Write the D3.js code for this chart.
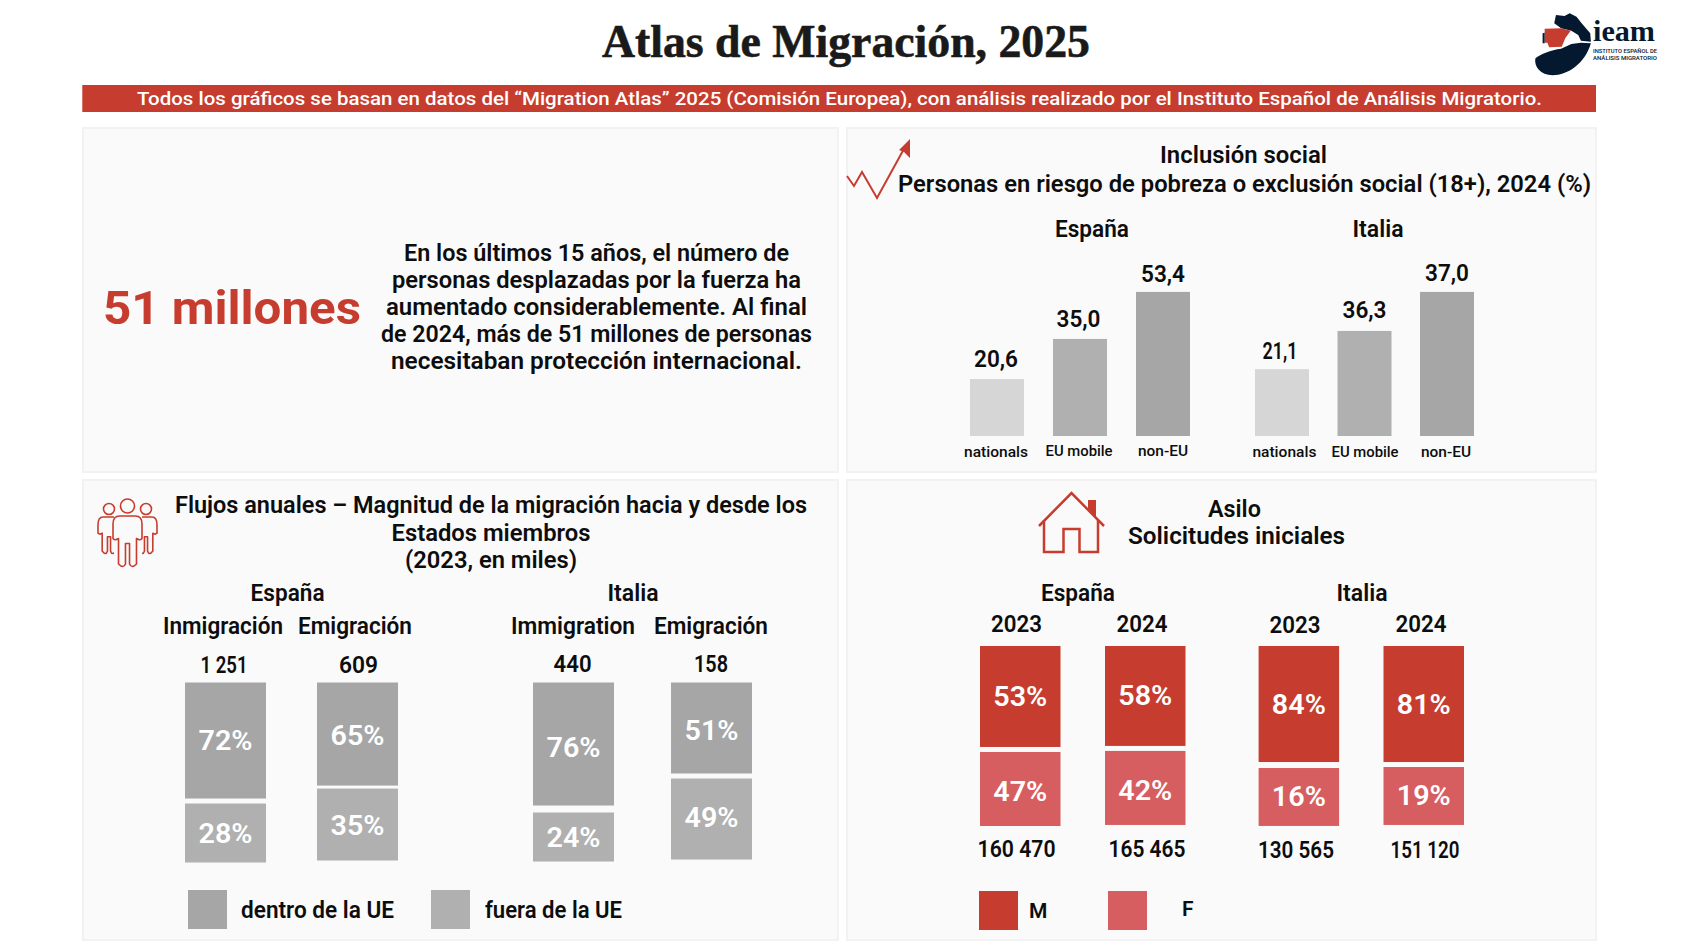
<!DOCTYPE html>
<html lang="es"><head><meta charset="utf-8">
<script src="https://cdn.jsdelivr.net/npm/d3@7"></script>
<style>html,body{margin:0;padding:0;background:#fff}svg{display:block}text{font-family:Roboto,"Noto Sans",sans-serif}</style>
</head><body><svg id="c" width="1685" height="946"></svg>
<script>
// ---- data ----
const titleText = "Atlas de Migración, 2025";
const bannerText = "Todos los gráficos se basan en datos del “Migration Atlas” 2025 (Comisión Europea), con análisis realizado por el Instituto Español de Análisis Migratorio.";
const headlineText = "51 millones";
const paragraphLines = ["En los últimos 15 años, el número de","personas desplazadas por la fuerza ha","aumentado considerablemente. Al final","de 2024, más de 51 millones de personas","necesitaban protección internacional."];
const countries = ["España","Italia"];

const inclusionCategories = ["nationals","EU mobile","non-EU"];
const inclusionSpain = [20.6,35.0,53.4];          // printed values
const inclusionItaly = [21.1,36.3,37.0];
const inclusionSpainDrawn = [20.7,35.3,52.4];     // bar lengths as drawn in the reference
const inclusionItalyDrawn = [24.3,38.2,52.4];

const flowHeads = ["Inmigración","Emigración","Immigration","Emigración"];
const flowTotals = ["1 251","609","440","158"];
const flowInside = [72,65,76,51];
const flowOutside = [28,35,24,49];
const flowInsideDrawn = [66.3,58.9,70.3,52.0];    // segment lengths as drawn
const flowOutsideDrawn = [33.7,41.1,28.0,46.3];
const flowLegend = ["dentro de la UE","fuera de la UE"];

const asylumYears = ["2023","2024","2023","2024"];
const asylumTotals = ["160 470","165 465","130 565","151 120"];
const asylumM = [53,58,84,81];
const asylumF = [47,42,16,19];
const asylumMDrawn = [57.7,57.1,66.3,66.3];       // segment lengths as drawn
const asylumFDrawn = [42.3,42.3,33.1,33.1];
const asylumLegend = ["M","F"];

// ---- helpers ----
const RED="#c63d2f", PINK="#d75e60", G1="#a6a6a6", G2="#b0b0b0", G3="#d6d6d6", INK="#0d0d0d";
const svg=d3.select("#c");
function T(x,y,s,o={}){
  const e=svg.append("text").attr("x",x).attr("y",y).text(s)
    .attr("text-anchor",o.a||"middle").attr("font-size",o.s||23).attr("font-weight",o.w||600)
    .attr("fill",o.f||INK);
  if(o.ff)e.style("font-family",o.ff);
  if(o.st)e.attr("stroke",o.f||INK).attr("stroke-width",o.st);
  if(o.l)e.attr("textLength",o.l).attr("lengthAdjust","spacingAndGlyphs");
  return e;
}
function band(dom,r0,r1,w){const step=(r1-r0-w)/(dom.length-1);
  return d3.scaleBand().domain(dom).range([r0,r1]).paddingInner(1-w/step).paddingOuter(0);}
const fmt=v=>v.toFixed(1).replace(".",",");
const pct=v=>v+"%";

// ---- frame ----
svg.append("rect").attr("width",1685).attr("height",946).attr("fill","#fff");
T(846,57,titleText,{s:46,w:700,ff:'"Liberation Serif",serif',f:"#1a1a1a",l:488,st:0.6});
svg.append("rect").attr("x",82.3).attr("y",85).attr("width",1513.7).attr("height",27).attr("fill",RED);
T(839.5,105,bannerText,{s:19,w:500,f:"#fff",l:1405});
[[83,128,755,344],[847,128,749,344],[83,480,755,460],[847,480,749,460]].forEach(p=>
  svg.append("rect").attr("x",p[0]).attr("y",p[1]).attr("width",p[2]).attr("height",p[3])
   .attr("fill","#fafafa").attr("stroke","#f2f2f2").attr("stroke-width",2));

// ---- logo ----
const logo=svg.append("g").attr("transform","translate(1520,0) scale(0.3425,0.3333)");
logo.append("path").attr("fill","#04182f").attr("d","M105,45 L130,48 L145,40 L165,50 L180,70 L205,100 L207,125 L178,122 L170,105 L150,92 L120,85 L100,70 Z");
logo.append("path").attr("fill","#04182f").attr("d","M207,130 C190,190 140,226 95,226 C60,225 40,200 45,175 C60,162 90,150 120,146 L150,132 L178,128 Z");
logo.append("path").attr("fill",RED).attr("d","M72,86 L120,85 L148,92 L132,115 L122,140 L85,142 L80,128 L72,128 Z");
logo.append("path").attr("fill","#04182f").attr("d","M66,100 L72,98 L72,130 L66,130 Z");
T(1624,41,"ieam",{s:30,w:700,ff:'"Liberation Serif",serif',f:"#04182f",l:62});
T(1625,52.5,"INSTITUTO ESPAÑOL DE",{s:5.5,w:500,f:"#04182f",l:64});
T(1625,59.5,"ANÁLISIS MIGRATORIO",{s:5.5,w:500,f:"#04182f",l:64});

// ---- headline panel ----
T(232,323.5,headlineText,{s:47,w:700,f:RED,l:258});
const paraY=[260.7,287.7,315,342,369], paraW=[385,409,421,431,411];
paragraphLines.forEach((l,i)=>T(596.5,paraY[i],l,{s:23,w:600,l:paraW[i]}));

// ---- inclusion panel ----
svg.append("path").attr("d","M847,176 L854,186 L862,172 L877,198 L905,147").attr("fill","none").attr("stroke",RED).attr("stroke-width",2);
svg.append("path").attr("d","M910,139 L910,158 L904,152 L899,150 Z").attr("fill",RED);
T(1243.5,162.7,"Inclusión social",{s:24,l:167});
T(1244.5,192,"Personas en riesgo de pobreza o exclusión social (18+), 2024 (%)",{s:24,l:693});
T(1092,237,countries[0],{s:23,l:74});
T(1378,237,countries[1],{s:23,l:51});
const yInc=d3.scaleLinear().domain([0,60]).range([436,436-165]);
const incColor=d3.scaleOrdinal().domain(inclusionCategories).range([G3,G2,G1]);
[{x:band(inclusionCategories,970,1190,54),v:inclusionSpain,d:inclusionSpainDrawn,vx:[996,1078.5,1163],cx:[996,1079,1163],vd:[-1.3,-1.2,1],cy:[456.7,455.7,455.7]},
 {x:band(inclusionCategories,1255,1474,54),v:inclusionItaly,d:inclusionItalyDrawn,vx:[1280,1364.5,1447],cx:[1284.4,1365,1446],vd:[1,-2.3,0],cy:[456.7,456.7,456.7]}].forEach(g=>{
  svg.append("g").selectAll("rect").data(inclusionCategories).join("rect")
    .attr("x",c=>g.x(c)).attr("width",g.x.bandwidth())
    .attr("y",(c,i)=>yInc(g.d[i])).attr("height",(c,i)=>yInc(0)-yInc(g.d[i])).attr("fill",c=>incColor(c));
  inclusionCategories.forEach((c,i)=>{
    T(g.vx[i],yInc(g.d[i])-11+g.vd[i],fmt(g.v[i]),{s:23,l:i==0&&g.v===inclusionItaly?35:44});
    T(g.cx[i],g.cy[i],c,{s:15.5,w:500,l:i==0?64:i==1?67:50});
  });
});

// ---- flows panel ----
const pc=svg.append("g").attr("fill","none").attr("stroke",RED).attr("stroke-width",1.6).attr("stroke-linejoin","round");
function person(cx,headY,r,top,bot,hw){
  pc.append("circle").attr("cx",cx).attr("cy",headY).attr("r",r);
  const a=hw, b=hw*0.62, c=hw*0.14;
  pc.append("path").attr("d",`M${cx-a*0.55},${top} Q${cx-a},${top} ${cx-a},${top+8} L${cx-a},${top+(bot-top)*.45}
   Q${cx-a+2},${top+(bot-top)*.5} ${cx-b},${top+(bot-top)*.45} L${cx-b},${bot-2} Q${cx-c*2},${bot+3} ${cx-c},${bot-2} L${cx-c},${top+(bot-top)*.55}
   L${cx+c},${top+(bot-top)*.55} L${cx+c},${bot-2} Q${cx+c*2},${bot+3} ${cx+b},${bot-2} L${cx+b},${top+(bot-top)*.45}
   Q${cx+a-2},${top+(bot-top)*.5} ${cx+a},${top+(bot-top)*.45} L${cx+a},${top+8} Q${cx+a},${top} ${cx+a*0.55},${top} Z`);
}
person(109,509,5.5,517,553,11);person(146,509,5.5,517,553,11);
pc.append("rect").attr("x",114).attr("y",515).attr("width",28).attr("height",50).attr("fill","#fafafa").attr("stroke","none");
person(127.5,506,7,516,566,14.5);

T(491,513,"Flujos anuales – Magnitud de la migración hacia y desde los",{s:24,l:632});
T(491,541,"Estados miembros",{s:24,l:199});
T(491,567.5,"(2023, en miles)",{s:24,l:172});
T(287.6,600.7,countries[0],{s:23,l:74});
T(633,600.7,countries[1],{s:23,l:51});
const flowHeadX=[223,355,573,711], flowHeadW=[120,114,124,114];
flowHeads.forEach((h,i)=>T(flowHeadX[i],634,h,{s:23,l:flowHeadW[i]}));

const flowIds=flowHeads.map((h,i)=>i);
const xFlowA=band(flowIds.slice(0,2),185,398,81), xFlowB=band(flowIds.slice(2),533,752,81);
const xFlow=i=>i<2?xFlowA(i):xFlowB(i);
const hFlow=d3.scaleLinear().domain([0,100]).range([0,175]);
const flowTop=682.5, flowGap=[5,3,7,5];
const flowTotalX=[224,358.6,572.6,711], flowTotalY=[672.7,672.7,671.7,671.7], flowTotalW=[47,39,38,34];
const flowInsideNudge=[0,1,3.7,2.5], flowOutsideNudge=[0,0.5,0,-1.3];
flowIds.forEach(i=>{
  const x=xFlow(i), w=xFlowA.bandwidth(), h1=hFlow(flowInsideDrawn[i]), h2=hFlow(flowOutsideDrawn[i]), y2=flowTop+h1+flowGap[i];
  svg.append("rect").attr("x",x).attr("y",flowTop).attr("width",w).attr("height",h1).attr("fill",G1);
  svg.append("rect").attr("x",x).attr("y",y2).attr("width",w).attr("height",h2).attr("fill",G2);
  T(x+w/2,flowTop+h1/2+9.5+flowInsideNudge[i],pct(flowInside[i]),{s:27,w:600,f:"#fff",l:54});
  T(x+w/2,y2+h2/2+9.5+flowOutsideNudge[i],pct(flowOutside[i]),{s:27,w:600,f:"#fff",l:54});
  T(flowTotalX[i],flowTotalY[i],flowTotals[i],{s:23,l:flowTotalW[i]});
});
[[188,G1,241,153],[431,G2,485,137]].forEach((l,i)=>{
  svg.append("rect").attr("x",l[0]).attr("y",890).attr("width",39).attr("height",39).attr("fill",l[1]);
  T(l[2],918,flowLegend[i],{s:23,a:"start",l:l[3]});
});

// ---- asylum panel ----
const hs=svg.append("g").attr("fill","none").attr("stroke",RED).attr("stroke-width",2.5);
hs.append("path").attr("d","M1039,526 L1071.5,493 L1104,526");
hs.append("path").attr("d","M1044,520 L1044,552 L1063.5,552 L1063.5,529 L1079.5,529 L1079.5,552 L1098,552 L1098,520");
svg.append("path").attr("d","M1088,500 L1096,500 L1096,517 L1088,509 Z").attr("fill",RED);
T(1234.4,516.7,"Asilo",{s:24,l:53});
T(1236.5,544,"Solicitudes iniciales",{s:24,l:217});
T(1078,600.7,countries[0],{s:23,l:74});
T(1362,600.7,countries[1],{s:23,l:51});
const asyIds=asylumYears.map((y,i)=>i);
const xAsyA=band(asyIds.slice(0,2),980,1185.5,80.5), xAsyB=band(asyIds.slice(2),1258.6,1464,80.5);
const xAsy=i=>i<2?xAsyA(i):xAsyB(i);
const asyTop=646, asyGap=[5,5,6,5];
const hAsy=d3.scaleLinear().domain([0,100]).range([0,175]);
const asyYearX=[1016.6,1142,1295,1421], asyYearY=[632.3,632.3,633,632.3];
const asyTotX=[1016.6,1147,1296,1425], asyTotY=[856.7,856.7,857.7,857.7], asyTotW=[78,77,76,69];
const asyFNudge=[3,3,0,0];
asyIds.forEach(i=>{
  const x=xAsy(i), w=xAsyA.bandwidth(), h1=hAsy(asylumMDrawn[i]), h2=hAsy(asylumFDrawn[i]), y2=asyTop+h1+asyGap[i];
  svg.append("rect").attr("x",x).attr("y",asyTop).attr("width",w).attr("height",h1).attr("fill",RED);
  svg.append("rect").attr("x",x).attr("y",y2).attr("width",w).attr("height",h2).attr("fill",PINK);
  T(x+w/2,asyTop+h1/2+9.5,pct(asylumM[i]),{s:27,w:600,f:"#fff",l:54});
  T(x+w/2,y2+h2/2+9.5+asyFNudge[i],pct(asylumF[i]),{s:27,w:600,f:"#fff",l:54});
  T(asyYearX[i],asyYearY[i],asylumYears[i],{s:23,l:51});
  T(asyTotX[i],asyTotY[i],asylumTotals[i],{s:23,l:asyTotW[i]});
});
[[979,RED,1029,918],[1108,PINK,1182,916]].forEach((l,i)=>{
  svg.append("rect").attr("x",l[0]).attr("y",891).attr("width",39).attr("height",39).attr("fill",l[1]);
  T(l[2],l[3],asylumLegend[i],{s:21,a:"start"});
});
</script></body></html>
